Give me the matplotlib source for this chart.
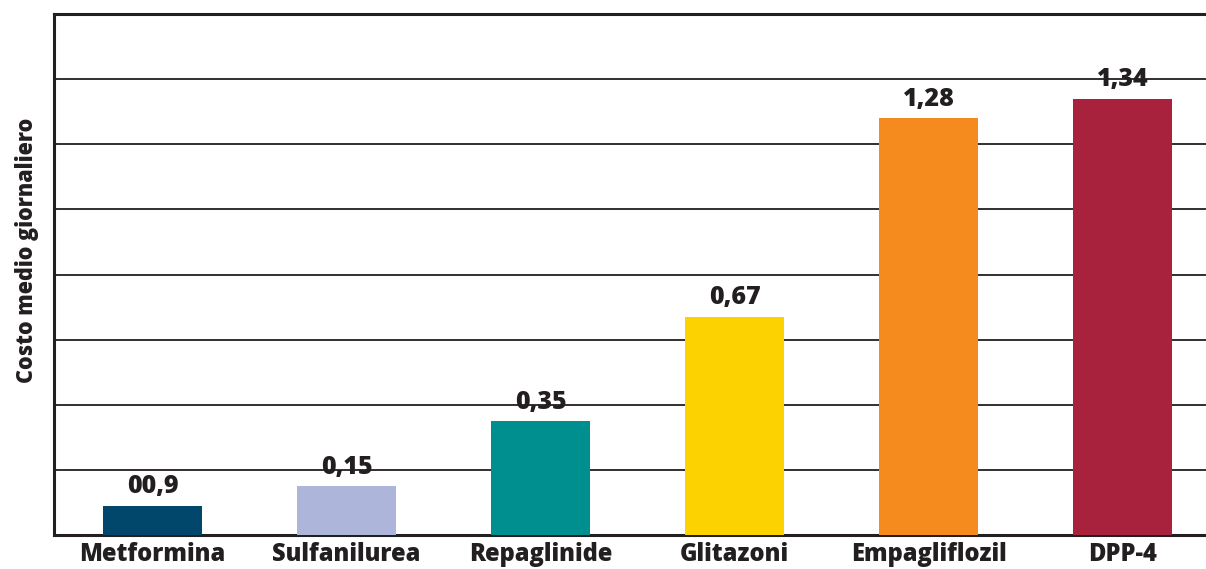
import matplotlib
matplotlib.use("Agg")
import matplotlib.pyplot as plt

categories = ["Metformina", "Sulfanilurea", "Repaglinide", "Glitazoni", "Empagliflozil", "DPP-4"]
values = [0.09, 0.15, 0.35, 0.67, 1.28, 1.34]
value_labels = ["00,9", "0,15", "0,35", "0,67", "1,28", "1,34"]
colors = ["#00476b", "#adb5db", "#008f8f", "#fcd200", "#f58b1f", "#a8223d"]

plt.rcParams['font.family'] = ['Open Sans', 'DejaVu Sans']

fig = plt.figure(figsize=(12.06, 5.69), dpi=100)
ax = fig.add_axes([54/1206, 1 - 535/569, (1206-54)/1206, (535-14)/569])

x = range(len(categories))
ax.bar(x, values, width=0.51, color=colors, zorder=3)
for i, v in enumerate(values):
    ax.text(i, v + 0.02, value_labels[i], ha='center', va='bottom',
            fontsize=18, fontweight=800, color='#231f20')

ax.set_ylim(0, 1.6)
ax.set_xlim(-0.508, 5.43)
ax.set_yticks([0.2 * k for k in range(1, 8)])
ax.set_yticklabels([])
ax.tick_params(axis='y', length=0)
ax.tick_params(axis='x', length=0, pad=5)
ax.set_xticks(list(x))
ax.set_xticklabels(categories, fontsize=17, fontweight=800, color='#231f20')
ax.grid(axis='y', color='#231f20', linewidth=1.3, zorder=0)

for s in ['left', 'bottom', 'top']:
    ax.spines[s].set_linewidth(2.2)
    ax.spines[s].set_color('#231f20')
ax.spines['right'].set_visible(False)

fig.text(27/1206, 1 - 250/569, "Costo medio giornaliero", rotation=90,
         ha='center', va='center', fontsize=15.5, fontweight=800, color='#231f20')

fig.savefig("out.png", dpi=100)
